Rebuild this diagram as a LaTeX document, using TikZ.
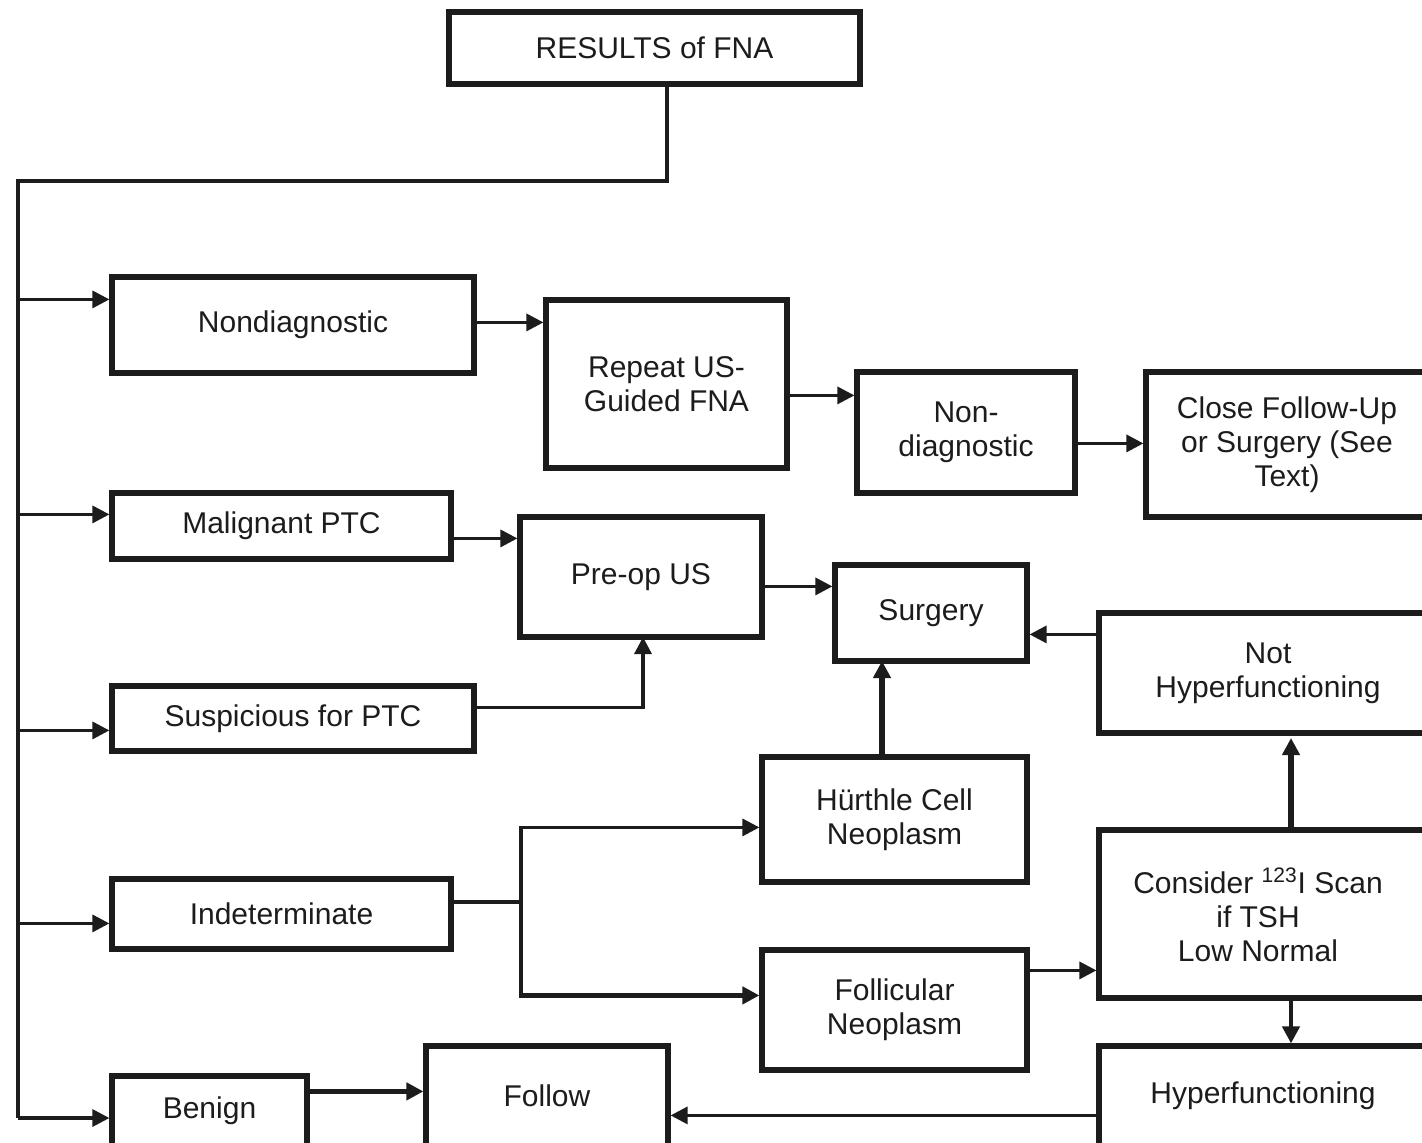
\documentclass[tikz,border=0pt]{standalone}
\usepackage{fontspec}
\setmainfont{Liberation Sans}
\usetikzlibrary{arrows.meta,calc}
\definecolor{ink}{HTML}{1C1C1C}
\begin{document}
\begin{tikzpicture}[x=0.5pt,y=-0.5pt,
  box/.style={draw=ink,line width=2.6pt,inner sep=0pt,align=center,text=ink,
    font=\fontsize{15}{17}\selectfont},
  lbl/.style={inner sep=0pt,align=center,text=ink,font=\fontsize{15}{17}\selectfont},
  arr/.style={draw=ink,line width=1.6pt,-{Triangle[length=8.5pt,width=8.5pt]}},
  thickarr/.style={arr,line width=2.7pt},
  medarr/.style={arr,line width=2.1pt},
  trunkline/.style={draw=ink,line width=2pt}]
\newcommand\bx[6]{\node[box,minimum width={(#4-#2)*0.5pt},minimum height={(#5-#3)*0.5pt}] (#1) at ({(#2+#4)/2},{(#3+#5)/2}) {#6};}
\useasboundingbox (0,0) rectangle (1422,1142);
\clip (0,0) rectangle (1422,1142);
\fill[white] (0,0) rectangle (1422,1142);
% boxes
\bx{res}{449}{12}{860}{84}{RESULTS of FNA}
\bx{nd}{112}{277}{474}{373}{Nondiagnostic}
\bx{mal}{112}{493}{451}{559}{Malignant PTC}
\bx{sus}{112}{686}{474}{751}{Suspicious for PTC}
\bx{ind}{112}{879}{451}{949}{Indeterminate}
\bx{ben}{112}{1076}{307}{1146}{Benign}
\bx{rep}{546}{300}{787}{468}{Repeat US-\\Guided FNA}
\bx{nd2}{857}{372}{1075}{493}{Non-\\diagnostic}
\bx{close}{1146}{372}{1428}{517}{Close Follow-Up\\or Surgery (See\\Text)}
\bx{pre}{520}{517}{762}{637}{Pre-op US}
\bx{surg}{835}{565}{1027}{661}{Surgery}
\bx{nothyp}{1099}{613}{1437}{733}{Not\\Hyperfunctioning}
\bx{hur}{762}{757}{1027}{882}{Hürthle Cell\\Neoplasm}
\bx{fol}{762}{950}{1027}{1070}{Follicular\\Neoplasm}
\bx{cons}{1099}{830}{1440}{998}{}
\node[lbl] (constext) at (1258,915) {Consider \textsuperscript{123}I Scan\\if TSH\\Low Normal};
\bx{follow}{426}{1046}{668}{1146}{Follow}
\bx{hyp}{1099}{1046}{1427}{1146}{Hyperfunctioning}
% trunk
\coordinate (tk) at (18,181);
\coordinate (tj) at (667,181);
\coordinate (tb) at (18,1118);
\draw[trunkline] (tj |- res.south) -- (tj) -- (tk) -- (tb);
% branches from trunk
\coordinate (a1) at ($(nd.north west)+(0,25)$);
\coordinate (a2) at ($(mal.north west)+(0,24)$);
\coordinate (a3) at ($(sus.north west)+(0,47)$);
\coordinate (a4) at ($(ind.north west)+(0,47)$);
\draw[arr] (tk |- a1) -- (a1);
\draw[arr] (tk |- a2) -- (a2);
\draw[arr] (tk |- a3) -- (a3);
\draw[arr] (tk |- a4) -- (a4);
\draw[arr] (tb) -- (ben.west |- tb);
% first row
\coordinate (b1) at ($(rep.north west)+(0,25)$);
\draw[arr] (nd.east |- b1) -- (b1);
\coordinate (b2) at ($(nd2.north west)+(0,26)$);
\draw[arr] (rep.east |- b2) -- (b2);
\coordinate (b3) at ($(close.north west)+(0,74)$);
\draw[arr] (nd2.east |- b3) -- (b3);
% malignant / suspicious
\coordinate (c1) at ($(pre.north west)+(0,24)$);
\draw[arr] (mal.east |- c1) -- (c1);
\coordinate (c2) at ($(sus.north east)+(0,24)$);
\coordinate (c3) at (643,637);
\draw[arr] (c2) -- (c3 |- c2) -- (c3);
\coordinate (c4) at ($(surg.north west)+(0,24)$);
\draw[arr] (pre.east |- c4) -- (c4);
\coordinate (c5) at ($(surg.north east)+(0,72)$);
\draw[arr] (nothyp.west |- c5) -- (c5);
\coordinate (c6) at (882,661);
\draw[thickarr] (c6 |- hur.north) -- (c6);
% indeterminate branch
\coordinate (d0) at (521,902);
\coordinate (d1) at ($(hur.north west)+(0,73)$);
\coordinate (d2) at ($(fol.north west)+(0,48)$);
\draw[arr] (ind.east |- d0) -- (d0) -- (d0 |- d1) -- (d1);
\draw[medarr] (d0) -- (d0 |- d2) -- (d2);
\coordinate (d3) at ($(cons.north west)+(0,143)$);
\draw[arr] (fol.east |- d3) -- (d3);
% consider
\coordinate (e1) at (1291,733);
\draw[thickarr] (e1 |- cons.north) -- ($(e1)+(0,5)$);
\draw[medarr] (e1 |- cons.south) -- (e1 |- hyp.north);
% benign / follow
\coordinate (f1) at ($(follow.north west)+(0,48)$);
\draw[thickarr] (ben.east |- f1) -- (f1);
\coordinate (f2) at ($(follow.north east)+(0,72)$);
\draw[arr] (hyp.west |- f2) -- (f2);
\end{tikzpicture}
\end{document}
